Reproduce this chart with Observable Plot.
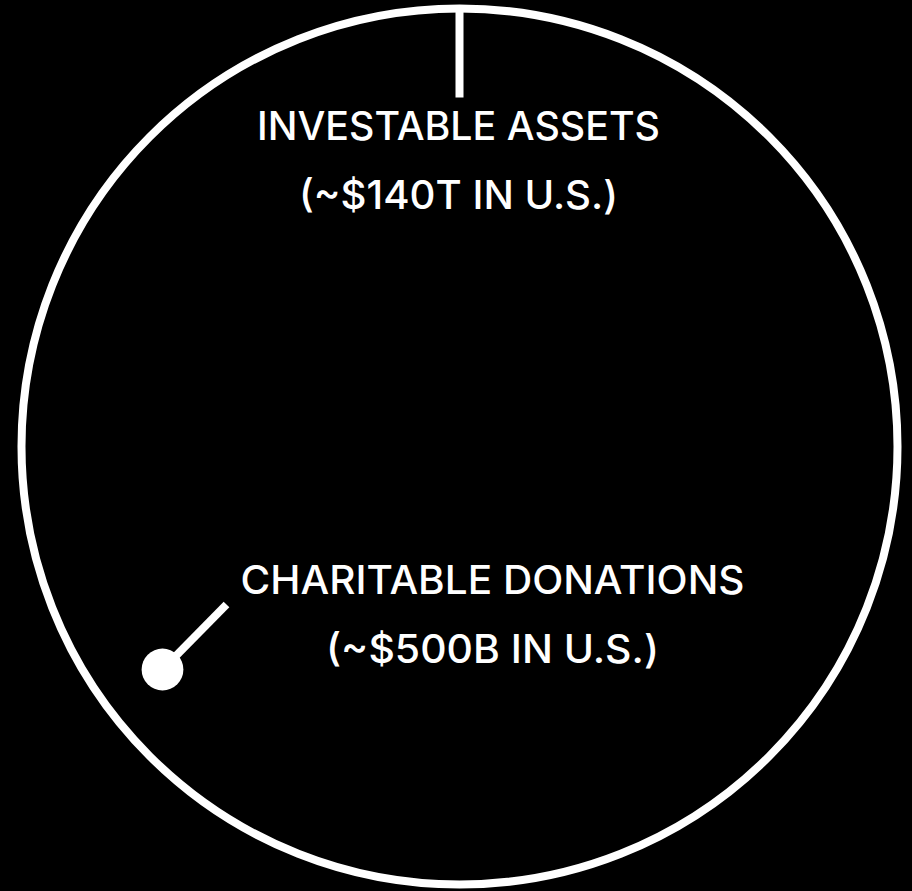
<!DOCTYPE html>
<html><head><meta charset="utf-8">
<script src="https://cdn.jsdelivr.net/npm/d3@7"></script>
<script src="https://cdn.jsdelivr.net/npm/@observablehq/plot@0.6"></script>
<style>html,body{margin:0;padding:0;background:#000;overflow:hidden;}</style>
</head><body><div id="chart"></div>
<script>
// ---- data ----
const categories = ["Investable assets", "Charitable donations"];
const valuesTrillion = [140, 0.5];
const labelLine1 = ["INVESTABLE ASSETS", "CHARITABLE DONATIONS"];
const labelLine2 = ["(~$140T IN U.S.)", "(~$500B IN U.S.)"];

// ---- layout (pixel-space scale domains) ----
const W = 912, H = 891;
const centerX = [459, 162];
const centerY = [446, 669];
const leaderEnd = [[459, 97], [226, 604]];
const labelAnchor = [[458, 208], [492, 662]];
const lineWidths = [[403, 319], [504, 333]];

const rOpts = {type: "pow", exponent: 0.54, domain: [0, 140], range: [0, 438]};
const rFn = d3.scalePow().exponent(rOpts.exponent).domain(rOpts.domain).range(rOpts.range);

const circles = categories.map((c, i) => ({category: c, value: valuesTrillion[i], x: centerX[i], y: centerY[i]}));
const leaders = [
  {x1: centerX[0], y1: centerY[0] - rFn(valuesTrillion[0]), x2: leaderEnd[0][0], y2: leaderEnd[0][1]},
  {x1: centerX[1], y1: centerY[1], x2: leaderEnd[1][0], y2: leaderEnd[1][1]}
];
const labels = categories.map((c, i) => ({text: labelLine1[i] + "\n" + labelLine2[i], x: labelAnchor[i][0], y: labelAnchor[i][1]}));

const chart = Plot.plot({
  width: W, height: H, margin: 0,
  x: {domain: [0, W], range: [0, W], axis: null},
  y: {domain: [0, H], range: [0, H], axis: null},
  r: rOpts,
  style: {background: "#000", color: "#fff", fontFamily: "Inter, 'Open Sans', sans-serif"},
  marks: [
    Plot.dot([circles[0]], {x: "x", y: "y", r: "value", stroke: "#fff", strokeWidth: 8, fill: "none"}),
    Plot.link(leaders, {x1: "x1", y1: "y1", x2: "x2", y2: "y2", stroke: "#fff", strokeWidth: 8, strokeLinecap: "butt"}),
    Plot.dot([circles[1]], {x: "x", y: "y", r: "value", fill: "#fff", stroke: "none"}),
    Plot.text(labels, {x: "x", y: "y", text: "text", fill: "#fff", fontSize: 39, fontWeight: 500, lineAnchor: "bottom", lineHeight: 69/39, textAnchor: "middle"})
  ]
});
document.getElementById("chart").appendChild(chart);
// fit each label line to the reference width
d3.select(chart).selectAll("text").filter(function(){ return this.querySelectorAll("tspan").length; })
  .each(function(d, i) {
    const tsp = this.querySelectorAll("tspan");
    tsp.forEach((t, j) => {
      const w = lineWidths[i] && lineWidths[i][j];
      if (w) { t.setAttribute("textLength", w); t.setAttribute("lengthAdjust", "spacingAndGlyphs"); }
    });
  });
</script>
</body></html>
